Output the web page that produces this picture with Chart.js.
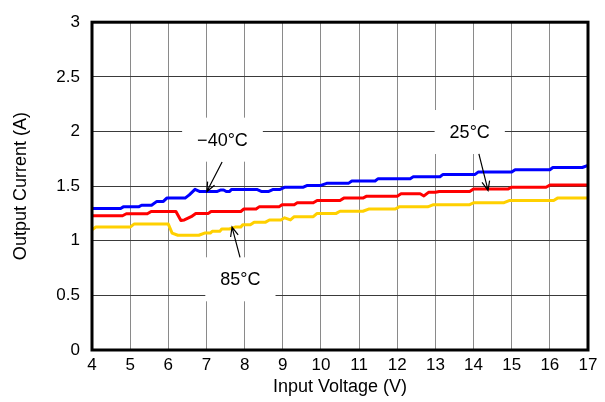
<!DOCTYPE html>
<html>
<head>
<meta charset="utf-8">
<script src="https://cdn.jsdelivr.net/npm/chart.js@4/dist/chart.umd.min.js"></script>
<style>
  html, body { margin: 0; padding: 0; background: #fff; }
  #wrap { width: 605px; height: 402px; }
</style>
</head>
<body>
<div id="wrap"><canvas id="myChart"></canvas></div>
<script>
/*-----data-----*/
var xTicks = [4, 5, 6, 7, 8, 9, 10, 11, 12, 13, 14, 15, 16, 17];
var yTicks = [0, 0.5, 1, 1.5, 2, 2.5, 3];

// -40°C (blue)
var coldV = [4, 4.75, 4.82, 5.22, 5.3, 5.56, 5.7, 5.87, 5.96, 6.44, 6.55, 6.7, 6.83, 7.27, 7.38, 7.45, 7.52, 7.6, 7.66, 8.32, 8.45, 8.62, 8.75, 8.93, 9.06, 9.54, 9.63, 9.98, 10.15, 10.72, 10.81, 11.42, 11.5, 12.34, 12.42, 13.12, 13.2, 14.04, 14.12, 15.0, 15.09, 16.0, 16.08, 16.85, 17];
var coldI = [1.295, 1.295, 1.31, 1.31, 1.325, 1.325, 1.36, 1.36, 1.39, 1.39, 1.42, 1.47, 1.45, 1.45, 1.465, 1.465, 1.45, 1.45, 1.47, 1.47, 1.45, 1.45, 1.47, 1.47, 1.49, 1.49, 1.505, 1.505, 1.525, 1.525, 1.547, 1.547, 1.568, 1.568, 1.586, 1.586, 1.607, 1.607, 1.628, 1.628, 1.649, 1.649, 1.67, 1.67, 1.69];

// 25°C (red)
var roomV = [4, 4.8, 4.9, 5.45, 5.55, 6.2, 6.33, 6.42, 6.6, 6.72, 7.05, 7.12, 7.9, 7.98, 8.3, 8.38, 8.9, 8.98, 9.3, 9.38, 9.8, 9.9, 10.5, 10.6, 11.1, 11.2, 12.0, 12.1, 12.6, 12.7, 12.82, 13.0, 13.1, 13.9, 14.0, 14.9, 15.0, 15.9, 16.0, 17];
var roomI = [1.229, 1.229, 1.247, 1.247, 1.268, 1.268, 1.185, 1.19, 1.22, 1.25, 1.25, 1.268, 1.268, 1.29, 1.29, 1.31, 1.31, 1.33, 1.33, 1.348, 1.348, 1.369, 1.369, 1.39, 1.39, 1.408, 1.408, 1.43, 1.43, 1.41, 1.443, 1.443, 1.45, 1.45, 1.473, 1.473, 1.49, 1.49, 1.509, 1.509];

// 85°C (yellow)
var hotV = [4, 4.1, 5.0, 5.1, 6.0, 6.1, 6.25, 6.8, 6.95, 7.1, 7.15, 7.35, 7.4, 7.6, 7.75, 7.9, 7.95, 8.15, 8.25, 8.55, 8.65, 8.95, 9.05, 9.2, 9.3, 9.8, 9.9, 10.4, 10.5, 11.1, 11.25, 11.95, 12.05, 12.8, 12.95, 13.9, 14.0, 14.8, 14.95, 16.1, 16.2, 17];
var hotI = [1.10, 1.125, 1.125, 1.152, 1.152, 1.07, 1.05, 1.05, 1.07, 1.07, 1.086, 1.086, 1.107, 1.107, 1.125, 1.125, 1.146, 1.146, 1.17, 1.17, 1.19, 1.19, 1.21, 1.19, 1.22, 1.22, 1.25, 1.25, 1.27, 1.27, 1.29, 1.29, 1.31, 1.31, 1.33, 1.33, 1.348, 1.348, 1.369, 1.369, 1.39, 1.39];

// callouts: label, text centre (V, A), arrow from -> to (V, A)
var calloutText = ['\u221240\u00b0C', '25\u00b0C', '85\u00b0C'];
var calloutAt = [[7.42, 1.925], [13.9, 1.995], [7.89, 0.647]];
var arrowFrom = [[7.41, 1.72], [14.14, 1.795], [7.88, 0.848]];
var arrowTo = [[7.01, 1.45], [14.38, 1.46], [7.67, 1.125]];

function toPoints(xs, ys) {
    var pts = [];
    for (var i = 0; i < xs.length; i++) {
        pts.push({ x: xs[i], y: ys[i] });
    }
    return pts;
}

var FONT = "'Liberation Sans', Arial, sans-serif";

/*------callouts + frame-------*/
var extras = {
    id: 'extras',
    afterDraw: function(chart) {
        var ctx = chart.ctx;
        var xs = chart.scales.x, ys = chart.scales.y;
        ctx.save();
        ctx.font = '18px ' + FONT;
        ctx.textAlign = 'center';
        ctx.textBaseline = 'middle';
        for (var i = 0; i < calloutText.length; i++) {
            var cx = xs.getPixelForValue(calloutAt[i][0]);
            var cy = ys.getPixelForValue(calloutAt[i][1]);
            var w = ctx.measureText(calloutText[i]).width + 30;
            ctx.fillStyle = '#fff';
            ctx.fillRect(cx - w / 2, cy - 22, w, 44);
            ctx.fillStyle = '#000';
            ctx.fillText(calloutText[i], cx, cy + 1);

            var x1 = xs.getPixelForValue(arrowFrom[i][0]), y1 = ys.getPixelForValue(arrowFrom[i][1]);
            var x2 = xs.getPixelForValue(arrowTo[i][0]), y2 = ys.getPixelForValue(arrowTo[i][1]);
            var a = Math.atan2(y2 - y1, x2 - x1);
            ctx.strokeStyle = '#000';
            ctx.lineWidth = 1.2;
            ctx.beginPath();
            ctx.moveTo(x1, y1);
            ctx.lineTo(x2, y2);
            ctx.moveTo(x2 - 10 * Math.cos(a - 0.4), y2 - 10 * Math.sin(a - 0.4));
            ctx.lineTo(x2, y2);
            ctx.lineTo(x2 - 10 * Math.cos(a + 0.4), y2 - 10 * Math.sin(a + 0.4));
            ctx.stroke();
        }
        var ca = chart.chartArea;
        ctx.strokeStyle = '#000';
        ctx.lineWidth = 3;
        ctx.strokeRect(ca.left, ca.top, ca.right - ca.left, ca.bottom - ca.top);
        ctx.restore();
    }
};

var ctx = document.getElementById('myChart').getContext('2d');
var myChart = new Chart(ctx, {
    type: 'line',
    data: {
        datasets: [
            { label: '-40°C', data: toPoints(coldV, coldI), borderColor: '#0000ff' },
            { label: '25°C', data: toPoints(roomV, roomI), borderColor: '#ff0000' },
            { label: '85°C', data: toPoints(hotV, hotI), borderColor: '#ffd000' }
        ]
    },
    options: {
        responsive: true,
        maintainAspectRatio: false,
        animation: false,
        devicePixelRatio: 1,
        layout: { padding: { left: 0, top: 14, right: 17, bottom: 0 } },
        elements: {
            line: { borderWidth: 3, tension: 0, borderJoinStyle: 'round' },
            point: { radius: 0 }
        },
        plugins: { legend: { display: false }, tooltip: { enabled: false } },
        scales: {
            x: {
                type: 'linear',
                min: 4, max: 17,
                afterBuildTicks: function(s) { s.ticks = xTicks.map(function(v) { return { value: v }; }); },
                afterFit: function(s) { s.height = 52; },
                grid: { color: '#8a8a8a', lineWidth: 1, drawTicks: false },
                border: { display: false },
                ticks: {
                    color: '#000', font: { family: FONT, size: 17 }, padding: 5, maxRotation: 0,
                    callback: function(v) { return String(v); }
                },
                title: { display: true, text: 'Input Voltage (V)', color: '#000', font: { family: FONT, size: 18 }, padding: { top: 0, bottom: 4 } }
            },
            y: {
                min: 0, max: 3,
                afterBuildTicks: function(s) { s.ticks = yTicks.map(function(v) { return { value: v }; }); },
                afterFit: function(s) { s.width = 92; },
                grid: { color: '#3a3a3a', lineWidth: 1, drawTicks: false },
                border: { display: false },
                ticks: {
                    color: '#000', font: { family: FONT, size: 17 }, padding: 12,
                    callback: function(v) { return String(v); }
                },
                title: { display: true, text: 'Output Current (A)', color: '#000', font: { family: FONT, size: 18 }, padding: { top: 10, bottom: 0 } }
            }
        }
    },
    plugins: [extras]
});
</script>
</body>
</html>
